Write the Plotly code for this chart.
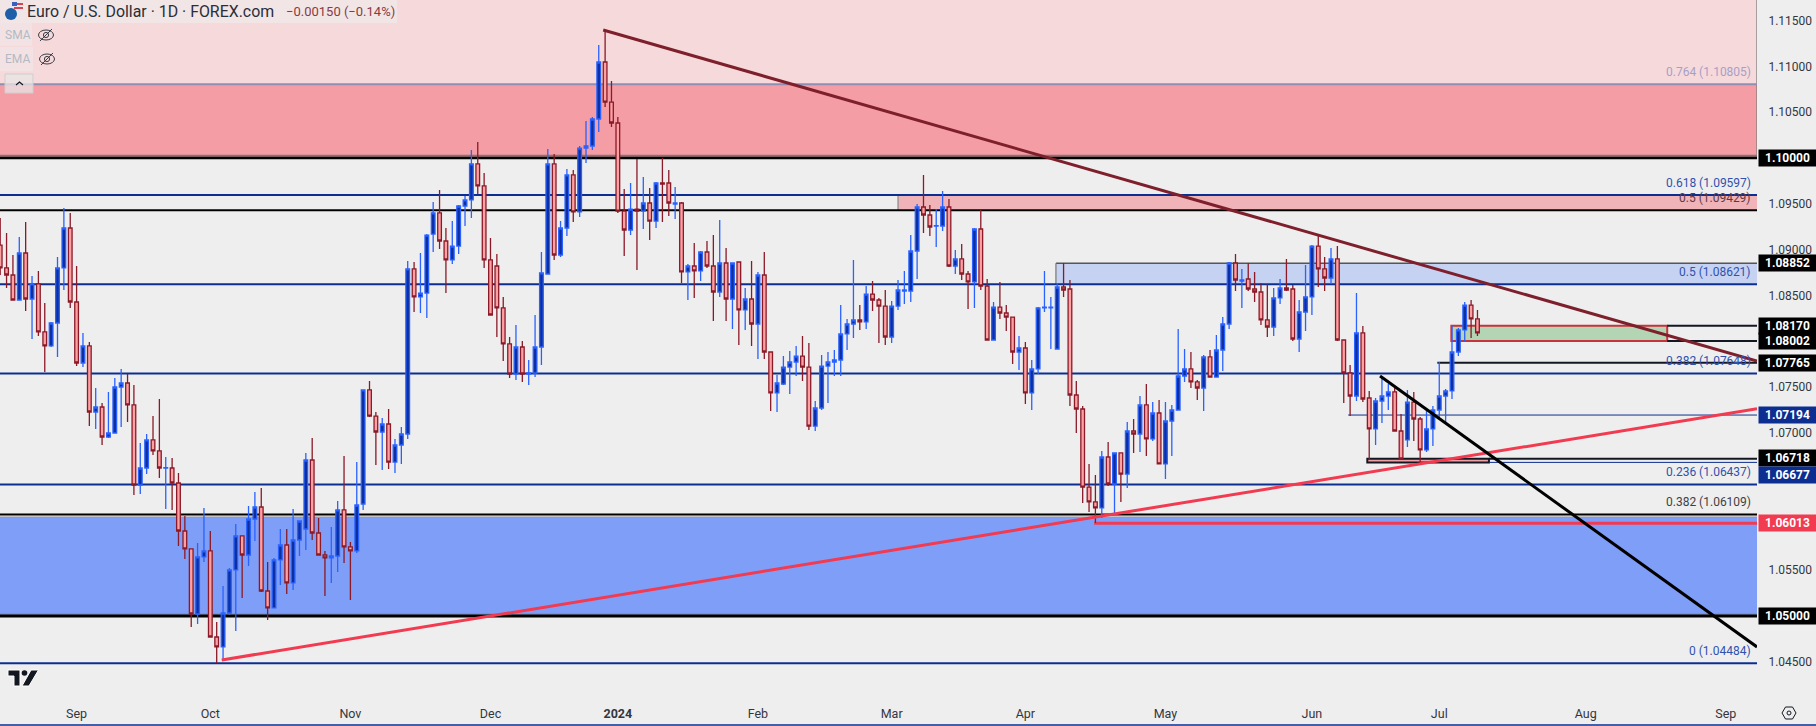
import plotly.graph_objects as go

# Daily EUR/USD candles, prices in points of 0.00001
opens = [109050,108800,108723,108450,108963,108461,108625,108101,107948,108199,
108800,109236,108428,107762,107948,107227,107282,106954,106998,107500,
107544,107304,106430,106616,106922,106802,106616,106616,106452,105928,
105732,105022,105645,105710,104771,104662,105033,105503,105874,105666,
106059,106190,105273,105088,105612,105775,105361,105830,105950,106703,
105906,105666,105634,105655,106158,105754,105710,106223,107468,107183,
107009,107096,106681,106867,106987,108789,108483,108526,109170,109400,
109094,108887,109039,109476,109542,109935,109695,108887,108821,108363,
107970,107642,107937,107642,107653,107937,108734,109935,108941,109236,
109815,109411,110109,110131,110426,111048,110611,110382,109421,109214,
109443,109421,109509,109312,109727,109727,109498,109509,108756,108821,
108767,108974,108821,108537,108854,108461,108865,108341,108461,108188,
108723,107882,107435,107533,107718,107773,107838,107718,107074,107271,
107729,107773,107795,108079,108188,108232,108210,108515,108450,108384,
108046,108384,108548,108548,108985,109465,109378,109258,109258,109465,
108821,108898,108734,108647,109225,108603,108013,108373,108308,108264,
107882,107926,107435,107697,108363,108363,107915,108592,108570,107413,
107260,106408,106245,106180,106736,106441,106780,106550,107020,106987,
107304,106933,107216,106660,107129,107249,107620,107697,107555,107489,
107828,107609,107904,108188,108854,108657,108679,108570,108537,108232,
108155,108472,108581,108570,108024,108319,108483,109039,108789,108690,
108898,108013,107653,107402,108090,107380,107042,107347,107402,107446,
107020,106922,107336,107151,106813,107042,107249,107402,107457,107882,
108123,108395,108243]
highs = [109345,109181,108941,109138,109301,108712,108767,108417,108210,108919,
109454,109400,108821,108090,107991,107489,107325,107446,107598,107697,
107642,107522,106889,106987,107183,107369,106736,106725,106561,106092,
105732,105797,106180,105928,104935,105328,105524,106005,105874,106201,
106354,106398,105590,105634,105950,105950,106169,106037,106780,106943,
106070,105710,105972,106256,106747,105808,106681,107468,107566,107227,
107162,107260,106933,107064,108876,108865,108963,109170,109520,109651,
109236,109312,109487,109585,110087,110175,109836,109127,108952,108483,
108046,108177,108002,107795,108286,108974,110098,110044,109312,109880,
109869,110131,110404,110448,111234,111397,110841,110448,109662,109727,
109989,109793,109673,109738,110000,109869,109684,109520,108843,109072,
108985,109094,109159,109323,109018,108854,108865,108581,108876,108756,
108974,107882,107631,107838,107893,107948,108057,107980,107347,107849,
107882,107904,108395,108243,108887,108395,108603,108657,108472,108559,
108439,108668,108767,109159,109498,109815,109487,109443,109640,109553,
108996,109061,108767,109236,109432,108679,108428,108647,108395,108264,
108057,107991,107795,108373,108767,108483,108636,108854,108668,107566,
107293,106660,106539,106802,106900,106780,106780,107118,107151,107402,
107533,107336,107358,107336,107304,108133,107915,107882,107577,107849,
107904,108068,108264,108865,108952,108789,108854,108756,108636,108625,
108581,108679,108898,108614,108450,108832,109050,109159,108919,109018,
109039,108013,107740,108526,108166,107457,107380,107620,107533,107489,
107205,107468,107446,107173,107271,107293,107773,107479,108177,108144,
108428,108450,108341]
lows = [108723,108581,108450,108450,108330,108024,108057,107664,107937,107828,
108559,108363,107729,107718,107074,107042,106867,106943,106998,107064,
107118,106321,106332,106550,106758,106507,106169,106158,105765,105623,
104880,104913,105590,104771,104487,104520,105011,104837,105197,105546,
105819,105262,104957,105088,105339,105240,105284,105655,105721,105830,
105666,105219,105361,105481,105579,105175,105688,106158,107173,106649,
106594,106605,106561,106660,106933,108319,108308,108253,108974,109007,
108526,108843,108952,109258,109345,109607,108800,108286,108046,107784,
107598,107577,107555,107522,107609,107740,108734,108887,108919,109149,
109301,109356,109946,110087,110284,110557,110339,109400,108930,109159,
108778,109225,109105,109236,109301,109367,109334,108636,108450,108472,
108657,108800,108221,108483,108221,108133,107959,108123,107948,107806,
107806,107238,107227,107522,107424,107620,107566,107031,107020,107249,
107325,107620,107620,107904,108035,108123,108133,108330,107980,107959,
107980,108341,108406,108428,108679,109181,109149,109028,109203,108810,
108734,108668,108352,108363,108559,108013,108013,108243,108112,107751,
107686,107314,107249,107642,108319,107915,107915,108483,107293,106998,
106234,106136,106016,106070,106419,106125,106245,106398,106780,106791,
106747,106911,106660,106496,106747,107249,107555,107489,107358,107238,
107609,107609,107675,108133,108548,108363,108548,108428,108177,108046,
108057,108406,108548,108002,107882,108112,108286,108592,108548,108625,
108002,107325,107183,107347,107336,106714,106867,107107,107249,107020,
106714,106845,106911,106670,106791,106856,107140,107107,107369,107838,
108002,108035,108057]
closes = [108800,108723,108450,108963,108461,108625,108101,107948,108199,108800,
109236,108428,107762,107948,107227,107282,106954,106998,107500,107544,
107304,106430,106616,106922,106802,106616,106620,106452,105928,105732,
105022,105645,105710,104771,104662,105033,105503,105874,105666,106059,
106190,105273,105088,105612,105775,105361,105830,106037,106703,105906,
105666,105634,105655,106158,105754,105710,106212,107468,107183,107009,
107096,106681,106867,106987,108789,108483,108526,109159,109400,109094,
108887,109039,109476,109542,109935,109695,108887,108286,108363,107970,
107642,107937,107642,107653,107937,108745,109935,108941,109236,109815,
109411,110109,110131,110426,111048,110611,110382,109421,109214,109443,
109421,109509,109312,109727,109716,109509,109509,108756,108821,108767,
108974,108821,108537,108854,108461,108854,108341,108461,108188,108723,
107882,107435,107544,107718,107773,107838,107718,107074,107271,107729,
107773,107795,108079,108188,108232,108210,108515,108450,108384,108046,
108384,108559,108559,108985,109465,109378,109247,109262,109465,108821,
108898,108734,108647,109225,108603,108013,108373,108308,108264,107882,
107926,107435,107697,108363,108373,108373,108592,108559,107413,107260,
106408,106245,106180,106736,106441,106780,106550,107020,106987,107304,
106933,107216,106660,107129,107249,107620,107697,107555,107489,107828,
107609,107904,108188,108854,108668,108668,108570,108537,108232,108155,
108472,108581,108559,108024,108319,108483,109039,108789,108690,108898,
108013,107653,107402,108090,107369,107042,107347,107402,107446,107020,
106714,107336,107151,106813,107042,107249,107402,107457,107882,108123,
108395,108243,108090]
POINT = 0.00001

# Axis ticks
price_ticks = [1.115, 1.11, 1.105, 1.095, 1.09, 1.085, 1.075, 1.07, 1.055, 1.045]
month_bars = [12, 33, 55, 77, 97, 119, 140, 161, 183, 206, 226, 249, 271]
month_labels = ["Sep", "Oct", "Nov", "Dec", "<b>2024</b>", "Feb", "Mar", "Apr", "May", "Jun", "Jul", "Aug", "Sep"]

# Levels
fib_levels = [1.10805, 1.09597, 1.09429, 1.08621, 1.07648, 1.06437, 1.06109, 1.04484]
fib_ratio = ["0.764", "0.618", "0.5", "0.5", "0.382", "0.236", "0.382", "0"]
fib_colors = ["#A6A0C8", "#2F52AE", "#5E3A44", "#2F52AE", "#2F52AE", "#2F52AE", "#3D3F47", "#2F52AE"]
fib_label_price = ["1.10805", "1.09597", "1.09429", "1.08621", "1.07648", "1.06437", "1.06109", "1.04484"]

tag_text = ["1.10000", "1.08852", "1.08170", "1.08002", "1.07765", "1.07194", "1.06718", "1.06677", "1.06013", "1.05000"]
tag_at = [1.10000, 1.08852, 1.08170, 1.08002, 1.07765, 1.07194, 1.06725, 1.06539, 1.06013, 1.05000]
tag_bg = ["#000000"] * 5 + ["#0D2E91", "#000000", "#0D2E91", "#F23A50", "#000000"]

# Trendlines: bar index and price at each end
trend_maroon = ((94.7, 1.11397), (275.9, 1.07784))
trend_red = ((34.8, 1.04520), (275.9, 1.07262))
trend_black = ((216.7, 1.07620), (275.9, 1.04662))

W, H = 1816, 726
PW, PH = 1757, 693
BAR_END = 275.9
Y_TOP, Y_BOTTOM = 1.11725, 1.041595
NAVY = "#0D2E91"


def xp(px):
    return px / PW


def yp(py):
    return 1 - py / PH


fig = go.Figure(go.Candlestick(
    x=list(range(len(opens))),
    open=[v * POINT for v in opens],
    high=[v * POINT for v in highs],
    low=[v * POINT for v in lows],
    close=[v * POINT for v in closes],
    increasing=dict(line=dict(color="#2962FF", width=1.3), fillcolor="#0D2FA0"),
    decreasing=dict(line=dict(color="#8A1A28", width=1.3), fillcolor="#FBA0A3"),
    whiskerwidth=0,
    hoverinfo="skip",
    showlegend=False,
))
shapes = []


def rect(x0, x1, y0, y1, fill, line=None, lw=0, layer="below"):
    shapes.append(dict(type="rect", xref="x", yref="y", x0=x0, x1=x1, y0=y0, y1=y1, fillcolor=fill,
                       line=dict(color=line or "rgba(0,0,0,0)", width=lw), layer=layer))


def hline(x0, x1, y, color, lw, layer="below"):
    shapes.append(dict(type="line", xref="x", yref="y", x0=x0, x1=x1, y0=y, y1=y,
                       line=dict(color=color, width=lw), layer=layer))


def trend(t, color, lw):
    shapes.append(dict(type="line", xref="x", yref="y", x0=t[0][0], y0=t[0][1], x1=t[1][0], y1=t[1][1],
                       line=dict(color=color, width=lw), layer="above"))


# Zones
rect(-1, BAR_END, 1.10805, Y_TOP, "#F6D9DB")
rect(-1, BAR_END, 1.10000, 1.10805, "#F59DA4")
rect(-1, BAR_END, 1.05000, 1.06081, "#7F9EF8")
rect(141, BAR_END, 1.09429, 1.09597, "#F0B3B8")
rect(165.8, BAR_END, 1.08621, 1.08852, "#C5D2F1")
hline(165.8, BAR_END, 1.08852, "#555555", 1.5)
shapes.append(dict(type="line", xref="x", yref="y", x0=165.8, x1=165.8, y0=1.08621, y1=1.08852,
                   line=dict(color="#777777", width=1.2), layer="below"))
shapes.append(dict(type="line", xref="x", yref="y", x0=141, x1=141, y0=1.09429, y1=1.09597,
                   line=dict(color="#888888", width=1.2), layer="below"))
shapes.append(dict(type="line", xref="x", yref="y", x0=BAR_END, x1=BAR_END, y0=1.10, y1=Y_TOP,
                   line=dict(color="#777777", width=1.2), layer="below"))
hline(-1, BAR_END, 1.06081, "#999999", 1.2)
hline(-1, BAR_END, 1.10024, "#8A7474", 2)
hline(-1, BAR_END, 1.05022, "#8A8A8A", 1.2)
rect(227.9, 261.8, 1.08002, 1.08170, "#B3D5B3", "#C8323C", 2)
rect(214.7, 233.8, 1.06677, 1.06718, "#F0A0A5", "#131722", 2)

# Horizontal levels
hline(-1, BAR_END, 1.10805, "#8F8FB5", 2)
hline(-1, BAR_END, 1.10000, "#000000", 2.5)
hline(-1, BAR_END, 1.09597, NAVY, 2)
hline(-1, BAR_END, 1.09429, "#000000", 2)
hline(-1, BAR_END, 1.08621, NAVY, 2)
hline(-1, BAR_END, 1.07648, NAVY, 2)
hline(-1, BAR_END, 1.06437, NAVY, 2)
hline(-1, BAR_END, 1.06109, "#000000", 2)
hline(-1, BAR_END, 1.05000, "#000000", 3)
hline(-1, BAR_END, 1.04484, NAVY, 2)
hline(261.8, BAR_END, 1.08170, "#131722", 2)
hline(261.8, BAR_END, 1.08002, "#131722", 2)
hline(225.7, BAR_END, 1.07765, "#131722", 2)
hline(211.7, BAR_END, 1.07194, NAVY, 1)
hline(233.8, BAR_END, 1.06718, "#131722", 2)
hline(233.8, BAR_END, 1.06677, NAVY, 1)
hline(171.8, BAR_END, 1.06013, "#F23A50", 3)

# Trendlines
trend(trend_maroon, "#7E1F2C", 3)
trend(trend_red, "#F23A50", 3)
trend(trend_black, "#000000", 3)


def pxrect(x0, y0, x1, y1, fill, line=None, lw=0):
    shapes.append(dict(type="rect", xref="paper", yref="paper", x0=xp(x0), x1=xp(x1), y0=yp(y0), y1=yp(y1),
                       fillcolor=fill, line=dict(color=line or "rgba(0,0,0,0)", width=lw), layer="above"))


def pxpath(points, fill=None, line=None, lw=1, close=True):
    d = "M" + " L".join(f"{xp(a):.6f},{yp(b):.6f}" for a, b in points) + (" Z" if close else "")
    shapes.append(dict(type="path", xref="paper", yref="paper", path=d,
                       fillcolor=fill or "rgba(0,0,0,0)",
                       line=dict(color=line or "rgba(0,0,0,0)", width=lw), layer="above"))


def pxcircle(cx, cy, rx, ry, fill=None, line=None, lw=1):
    shapes.append(dict(type="circle", xref="paper", yref="paper",
                       x0=xp(cx - rx), x1=xp(cx + rx), y0=yp(cy + ry), y1=yp(cy - ry),
                       fillcolor=fill or "rgba(0,0,0,0)",
                       line=dict(color=line or "rgba(0,0,0,0)", width=lw), layer="above"))


# Legend strip, icons
pxrect(0, 0, 397, 23, "rgba(238,238,238,0.55)")
pxrect(0, 23, 32, 46, "rgba(238,238,238,0.45)")
pxrect(0, 47, 33, 71, "rgba(238,238,238,0.45)")
pxcircle(17, 8, 6, 6, "#E8E8EE")
pxrect(14, 3, 23, 5, "#D9434E")
pxrect(14, 7, 23, 9, "#D9434E")
pxrect(12, 2, 17, 6, "#3B5FBF")
pxcircle(11, 14, 6, 6, "#1E5FA8")
for cy in (35, 59):
    cx = 46 if cy == 35 else 47
    pxcircle(cx, cy, 7.5, 5, None, "#3A3D45", 1)
    pxcircle(cx, cy, 2.6, 2.6, None, "#3A3D45", 1)
    pxpath([(cx - 6, cy + 6), (cx + 6, cy - 6)], None, "#3A3D45", 1, False)
pxrect(5, 74, 33, 93, "rgba(232,228,228,0.75)", "#CFCFCF", 1)
pxpath([(16, 85), (19.5, 82), (23, 85)], None, "#131722", 1.2, False)

# Watermark logo
pxpath([(8, 670), (20, 670), (20, 686), (14, 686), (14, 676), (8, 676)], "#131722", "#FFFFFF", 1)
pxcircle(24.5, 673, 2.8, 2.8, "#131722")
pxpath([(31, 670), (38.5, 670), (29, 686), (22, 686)], "#131722", "#FFFFFF", 1)

# Settings icon and bottom border
pxpath([(1782, 713), (1785.5, 707), (1792.5, 707), (1796, 713), (1792.5, 719), (1785.5, 719)], None, "#131722", 1)
pxcircle(1789, 713, 2, 2, None, "#131722", 1)
shapes.append(dict(type="line", xref="paper", yref="paper", x0=0, x1=W / PW, y0=yp(725), y1=yp(725),
                   line=dict(color=NAVY, width=1.5), layer="above"))

annotations = []
FONT = "Roboto, 'Liberation Sans', sans-serif"

for level, ratio, color, label in zip(fib_levels, fib_ratio, fib_colors, fib_label_price):
    annotations.append(dict(xref="paper", yref="y", x=xp(1753), y=level, yshift=12, xanchor="right", yanchor="middle",
                            text=f"{ratio} ({label})", showarrow=False,
                            font=dict(family=FONT, size=12, color=color)))

for text, at, bg in zip(tag_text, tag_at, tag_bg):
    annotations.append(dict(xref="paper", yref="y", x=xp(1758), y=at, xanchor="left", yanchor="middle",
                            text=f"<b>{text}</b>", showarrow=False, width=57, height=16, borderpad=0,
                            bgcolor=bg, align="center", valign="middle",
                            font=dict(family=FONT, size=12, color="#FFFFFF")))


def pxtext(x, y, text, size, color):
    annotations.append(dict(xref="paper", yref="paper", x=xp(x), y=yp(y), xanchor="left", yanchor="middle",
                            text=text, showarrow=False, borderpad=0, font=dict(family=FONT, size=size, color=color)))


pxtext(26, 11.5, "Euro / U.S. Dollar · 1D · FOREX.com", 15.9, "#2A2E39")
pxtext(285, 11.5, "−0.00150 (−0.14%)", 13, "#8A3A44")
pxtext(4, 35, "SMA", 12, "#B5B9C5")
pxtext(4, 59, "EMA", 12, "#B5B9C5")

fig.update_layout(
    width=W, height=H, autosize=False,
    margin=dict(l=0, r=W - PW, t=0, b=H - PH, pad=0),
    paper_bgcolor="#EEEEEE", plot_bgcolor="#EEEEEE",
    showlegend=False, dragmode=False, hovermode=False,
    boxgap=0.24, boxgroupgap=0.24,
    shapes=shapes, annotations=annotations,
    xaxis=dict(range=[-0.03, BAR_END], tickmode="array", tickvals=month_bars, ticktext=month_labels,
               showgrid=False, zeroline=False, showline=False, ticks="outside", ticklen=9,
               tickcolor="rgba(0,0,0,0)", rangeslider=dict(visible=False), fixedrange=True,
               tickfont=dict(family=FONT, size=12.5, color="#33363F")),
    yaxis=dict(range=[Y_BOTTOM, Y_TOP], side="right", tickmode="array", tickvals=price_ticks,
               ticktext=[f"{v:.5f}" for v in price_ticks], showgrid=False, zeroline=False, showline=False,
               ticks="outside", ticklen=8, tickcolor="rgba(0,0,0,0)", fixedrange=True,
               tickfont=dict(family=FONT, size=12, color="#33363F")),
)

fig.write_html("out.html", config=dict(displayModeBar=False, responsive=False),
               post_script="document.body.style.margin='0';document.body.style.overflow='hidden';")
